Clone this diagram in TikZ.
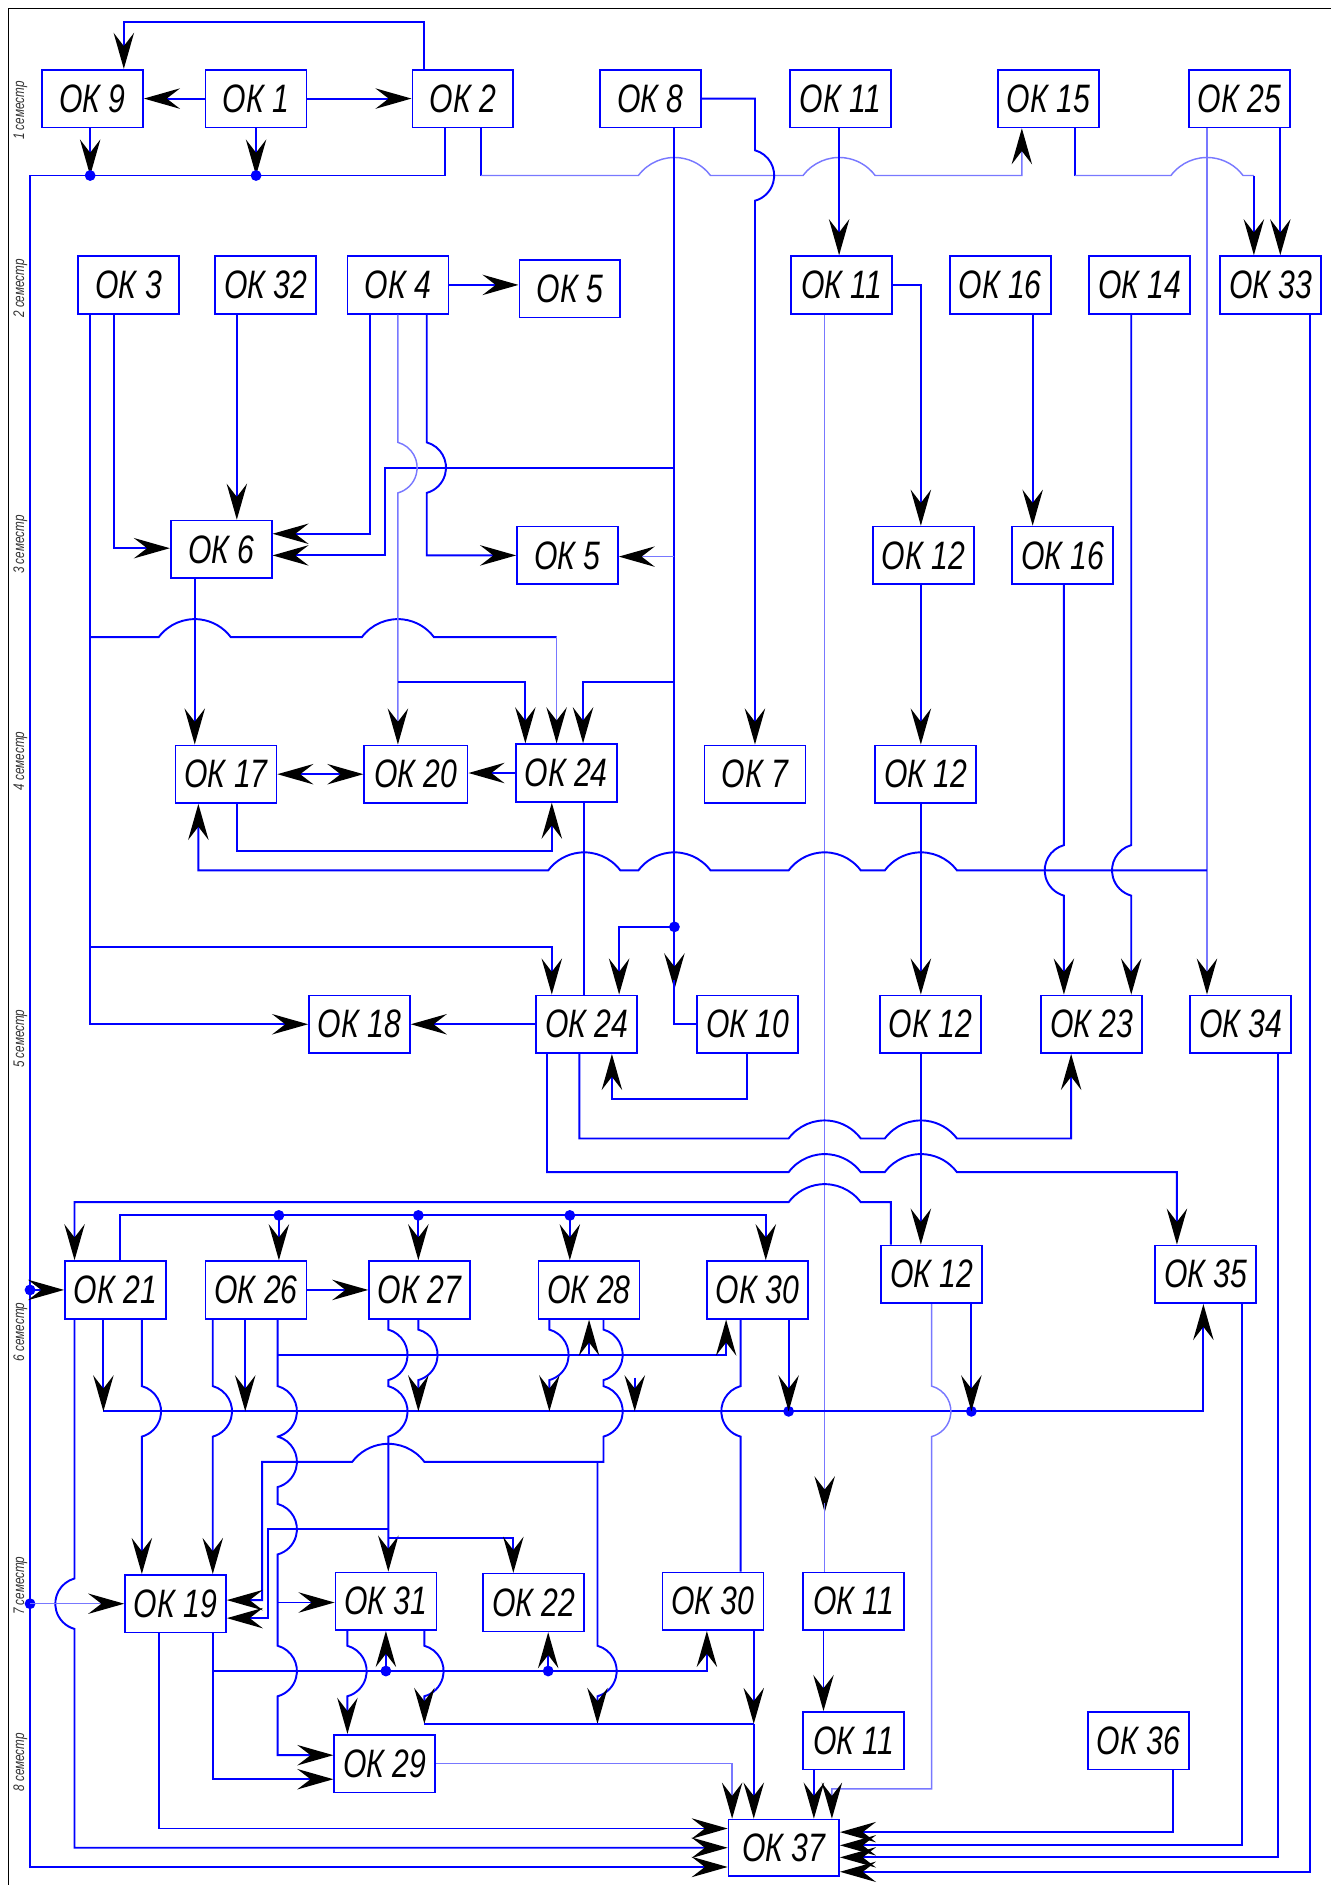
\documentclass[tikz,border=0pt]{standalone}
\usepackage{fontspec}
\newfontfamily\gost[FakeStretch=0.76]{Liberation Sans}
\usetikzlibrary{arrows.meta}
\definecolor{bl}{RGB}{0,0,255}
\definecolor{lbl}{RGB}{120,120,255}
% hops: horizontal (bulge up) moving right / left; vertical moving down, bulge right / left
\newcommand\hopR[2]{-- ({#1-30},#2) arc[start angle=216.87,end angle=323.13,radius=37.5]}
\newcommand\hopL[2]{-- ({#1+30},#2) arc[start angle=323.13,end angle=216.87,radius=37.5]}
\newcommand\hopDR[2]{-- (#1,{#2-21}) arc[start angle=-74.6,end angle=74.6,radius=21.78]}
\newcommand\hopDL[2]{-- (#1,{#2-21}) arc[start angle=254.6,end angle=105.4,radius=21.78]}
\tikzset{
 ln/.style={draw=bl, line width=0.8pt},
 lt/.style={draw=lbl, line width=0.6pt},
 tip/.tip={Stealth[length=15pt,width=8.5pt,inset=5.5pt,color=black]},
 ar/.style={-tip},
 dar/.style={tip-tip},
 box/.style={draw=bl, line width=0.7pt, minimum width=42pt, minimum height=24pt, inner sep=0pt, fill=white,
   font=\gost\itshape\fontsize{16.5}{16.5}\selectfont},
 sem/.style={rotate=90, inner sep=0pt, text=black!80, font=\gost\itshape\fontsize{6.4}{6.4}\selectfont}
}
\newcommand\jdot[2]{\fill[bl] (#1,#2) circle[radius=4.5];}
\begin{document}
\begin{tikzpicture}[x=0.5pt,y=-0.5pt]
\path[use as bounding box] (0,0) rectangle (1107,1568);
\draw[black, line width=0.6pt] (1107,7) -- (7,7) -- (7,1568);
% semester labels
\node[sem] (s1) at (17,92) {1 семестр};
\node[sem] (s2) at (17,240) {2 семестр};
\node[sem] (s3) at (17,453) {3 семестр};
\node[sem] (s4) at (17,633) {4 семестр};
\node[sem] (s5) at (17,864) {5 семестр};
\node[sem] (s6) at (17,1108) {6 семестр};
\node[sem] (s7) at (17,1319) {7 семестр};
\node[sem] (s8) at (17,1466) {8 семестр};
% boxes
\node[box] (ok9) at (77,82) {ОК 9};
\node[box] (ok1) at (213,82) {ОК 1};
\node[box] (ok2) at (385,82) {ОК 2};
\node[box] (ok8) at (541,82) {ОК 8};
\node[box] (ok11a) at (699,82) {ОК 11};
\node[box] (ok15) at (872,82) {ОК 15};
\node[box] (ok25) at (1031,82) {ОК 25};
\node[box] (ok3) at (107,237) {ОК 3};
\node[box] (ok32) at (221,237) {ОК 32};
\node[box] (ok4) at (331,237) {ОК 4};
\node[box] (ok5a) at (474,240) {ОК 5};
\node[box] (ok11b) at (700,237) {ОК 11};
\node[box] (ok16a) at (832,237) {ОК 16};
\node[box] (ok14) at (948,237) {ОК 14};
\node[box] (ok33) at (1057,237) {ОК 33};
\node[box] (ok6) at (184,457) {ОК 6};
\node[box] (ok5b) at (472,462) {ОК 5};
\node[box] (ok12a) at (768,462) {ОК 12};
\node[box] (ok16b) at (884,462) {ОК 16};
\node[box] (ok17) at (188,644) {ОК 17};
\node[box,minimum width=43pt] (ok20) at (346,644) {ОК 20};
\node[box] (ok24a) at (471,643) {ОК 24};
\node[box] (ok7) at (628,644) {ОК 7};
\node[box] (ok12b) at (770,644) {ОК 12};
\node[box] (ok18) at (299,852) {ОК 18};
\node[box] (ok24b) at (488,852) {ОК 24};
\node[box] (ok10) at (622,852) {ОК 10};
\node[box] (ok12c) at (774,852) {ОК 12};
\node[box] (ok23) at (908,852) {ОК 23};
\node[box] (ok34) at (1032,852) {ОК 34};
\node[box] (ok21) at (96,1073) {ОК 21};
\node[box] (ok26) at (213,1073) {ОК 26};
\node[box] (ok27) at (349,1073) {ОК 27};
\node[box] (ok28) at (490,1073) {ОК 28};
\node[box] (ok30a) at (630,1073) {ОК 30};
\node[box] (ok12d) at (775,1060) {ОК 12};
\node[box] (ok35) at (1003,1060) {ОК 35};
\node[box] (ok19) at (146,1334) {ОК 19};
\node[box] (ok31) at (321,1332) {ОК 31};
\node[box] (ok22) at (444,1333) {ОК 22};
\node[box] (ok30b) at (593,1332) {ОК 30};
\node[box] (ok11c) at (710,1332) {ОК 11};
\node[box] (ok11d) at (710,1448) {ОК 11};
\node[box] (ok36) at (947,1448) {ОК 36};
\node[box] (ok29) at (320,1467) {ОК 29};
\node[box,minimum width=46pt,minimum height=23.5pt] (ok37) at (652,1537) {ОК 37};

% ---- semester 1
\draw[ln,ar] (ok2.north -| 353,0) -- (353,18) -- (103,18) -- (ok9.north -| 103,0);
\draw[ln,ar] (ok1.west) -- (ok9.east);
\draw[ln,ar] (ok1.east) -- (ok2.west);
\draw[ln,ar] (ok9.south -| 75,0) -- (75,146);
\draw[ln,ar] (ok1.south) -- (213,146);
\draw[ln,ar] (ok2.south -| 370,0) -- (370,146) -- (25,146) -- (25,1553) -- (ok37.west |- 0,1553);
\jdot{75}{146}\jdot{213}{146}
\draw[ln] (ok2.south -| 400,0) -- (400,146);
\draw[lt,ar] (400,146) \hopR{561}{146} \hopR{698}{146} -- (850,146) -- (ok15.south -| 850,0);
\draw[ln] (ok15.south -| 894,0) -- (894,146);
\draw[lt] (894,146) \hopR{1004}{146} -- (1043,146);
\draw[ln,ar] (1043,146) -- (ok33.north -| 1043,0);
\draw[ln,ar] (ok25.south -| 1065,0) -- (ok33.north -| 1065,0);
\draw[lt,ar] (ok25.south -| 1004,0) -- (ok34.north -| 1004,0);
\draw[ln,ar] (ok11a.south -| 698,0) -- (ok11b.north -| 698,0);
\draw[ln,ar] (ok8.east) -- (628,82) \hopDR{628}{146} -- (ok7.north);
% OK8 trunk
\draw[ln] (ok8.south -| 561,0) -- (561,771);
\jdot{561}{771}
\draw[ln,ar] (561,771) -- (561,823);
\draw[ln] (561,815) -- (561,852) -- (ok10.west);
\draw[ln,ar] (561,771) -- (515,771) -- (ok24b.north -| 515,0);
\draw[ln,ar] (561,389) -- (320,389) -- (320,462) -- (ok6.east |- 0,462);
\draw[lt,ar] (561,463) -- (ok5b.east |- 0,463);
\draw[ln,ar] (561,567) -- (485,567) -- (ok24a.north -| 485,0);
% ---- semester 2/3
\draw[ln,ar] (ok3.south -| 75,0) -- (75,852) -- (ok18.west);
\draw[ln] (75,530) \hopR{162}{530} \hopR{331}{530} -- (463,530);
\draw[lt,ar] (463,530) -- (ok24a.north -| 463,0);
\draw[ln,ar] (75,788) -- (459,788) -- (ok24b.north -| 459,0);
\draw[ln,ar] (ok3.south -| 95,0) -- (95,456) -- (ok6.west |- 0,456);
\draw[ln,ar] (ok32.south -| 197,0) -- (ok6.north -| 197,0);
\draw[ln,ar] (ok4.south -| 308,0) -- (308,444) -- (ok6.east |- 0,444);
\draw[lt,ar] (ok4.south) \hopDR{331}{389} -- (ok20.north -| 331,0);
\draw[ln,ar] (331,567) -- (437,567) -- (ok24a.north -| 437,0);
\draw[ln,ar] (ok4.south -| 355,0) \hopDR{355}{389} -- (355,462) -- (ok5b.west |- 0,462);
\draw[ln,ar] (ok4.east) -- (ok4.east -| ok5a.west);
\draw[ln,ar] (ok11b.east) -- (766,237) -- (ok12a.north -| 766,0);
\draw[lt,ar] (ok11b.south -| 686,0) -- (686,1258);
\draw[lt] (686,1250) -- (ok11c.north -| 686,0);
\draw[ln,ar] (ok16a.south -| 859,0) -- (ok16b.north -| 859,0);
\draw[ln,ar] (ok12a.south -| 766,0) -- (ok12b.north -| 766,0);
% ---- semester 4
\draw[ln,ar] (ok6.south -| 162,0) -- (ok17.north -| 162,0);
\draw[ln,dar] (ok17.east) -- (ok20.west);
\draw[ln,ar] (ok24a.west) -- (ok24a.west -| ok20.east);
\draw[ln,ar] (ok17.south -| 197,0) -- (197,708) -- (459,708) -- (ok24a.south -| 459,0);
\draw[ln] (ok24a.south -| 486,0) -- (ok24b.north -| 486,0);
\draw[ln,ar] (1004,724) \hopL{766}{724} \hopL{686}{724} \hopL{561}{724} \hopL{486}{724} -- (165,724) -- (ok17.south -| 165,0);
\draw[ln,ar] (ok12b.south -| 766,0) -- (ok12c.north -| 766,0);
\draw[ln,ar] (ok16b.south -| 885,0) \hopDL{885}{724} -- (ok23.north -| 885,0);
\draw[ln,ar] (ok14.south -| 941,0) \hopDL{941}{724} -- (ok23.north -| 941,0);
% ---- semester 5
\draw[ln,ar] (ok24b.west) -- (ok18.east);
\draw[ln,ar] (ok10.south -| 621,0) -- (621,914) -- (509,914) -- (ok24b.south -| 509,0);
\draw[ln,ar] (ok24b.south -| 482,0) -- (482,947) \hopR{686}{947} \hopR{766}{947} -- (891,947) -- (ok23.south -| 891,0);
\draw[ln,ar] (ok24b.south -| 455,0) -- (455,975) \hopR{686}{975} \hopR{766}{975} -- (979,975) -- (ok35.north -| 979,0);
\draw[ln,ar] (ok12c.south -| 766,0) -- (ok12d.north -| 766,0);
\draw[ln,ar] (ok12d.north -| 741,0) -- (741,1000) \hopL{686}{1000} -- (62,1000) -- (ok21.north -| 62,0);
% ---- semester 6
\draw[ln,ar] (ok21.north -| 100,0) -- (100,1011) -- (637,1011) -- (ok30a.north -| 637,0);
\jdot{232}{1011}\jdot{348}{1011}\jdot{474}{1011}
\draw[ln,ar] (232,1011) -- (ok26.north -| 232,0);
\draw[ln,ar] (348,1011) -- (ok27.north -| 348,0);
\draw[ln,ar] (474,1011) -- (ok28.north -| 474,0);
\jdot{25}{1073}
\draw[ln,ar] (25,1073) -- (ok21.west);
\draw[ln,ar] (ok26.east) -- (ok27.west);
\draw[ln,ar] (86,1174) -- (1001,1174) -- (ok35.south -| 1001,0);
\jdot{656}{1174}\jdot{808}{1174}
\draw[ln,ar] (ok21.south -| 86,0) -- (86,1174);
\draw[ln,ar] (ok26.south -| 204,0) -- (204,1174);
\draw[ln,ar] (ok27.south -| 348,0) \hopDR{348}{1127} -- (348,1174);
\draw[ln,ar] (ok28.south -| 457,0) \hopDR{457}{1127} -- (457,1174);
\draw[ln,ar] (528,1146) -- (528,1174);
\draw[ln,ar] (ok30a.south -| 656,0) -- (656,1174);
\draw[ln,ar] (ok12d.south -| 808,0) -- (808,1174);
\draw[ln,ar] (ok21.south -| 118,0) \hopDR{118}{1174} -- (ok19.north -| 118,0);
\draw[ln,ar] (ok26.south -| 177,0) \hopDR{177}{1174} -- (ok19.north -| 177,0);
\draw[ln,ar] (ok21.south -| 62,0) \hopDL{62}{1334} -- (62,1537) -- (ok37.west |- 0,1537);
\jdot{25}{1334}
\draw[lt,ar] (25,1334) -- (ok19.west);
\draw[ln,ar] (ok26.south -| 231,0) \hopDR{231}{1174} \hopDR{231}{1216} \hopDR{231}{1272} \hopDR{231}{1390} -- (231,1460) -- (ok29.west |- 0,1460);
\draw[ln,ar] (231,1127) -- (604,1127) -- (ok30a.south -| 604,0);
\draw[ln,ar] (490,1127) -- (ok28.south -| 490,0);
\draw[ln,ar] (231,1333) -- (ok31.west |- 0,1333);
\draw[ln,ar] (ok27.south -| 323,0) \hopDR{323}{1127} \hopDR{323}{1174} -- (ok31.north -| 323,0);
\draw[ln,ar] (323,1272) -- (223,1272) -- (223,1346) -- (ok19.east |- 0,1346);
\draw[ln,ar] (323,1279) -- (427,1279) -- (ok22.north -| 427,0);
\draw[ln,ar] (ok28.south -| 502,0) \hopDR{502}{1127} \hopDR{502}{1174} -- (502,1216) \hopL{323}{1216} -- (218,1216) -- (218,1331) -- (ok19.east |- 0,1331);
\draw[ln,ar] (497,1216) \hopDR{497}{1390} -- (497,1434);
\draw[ln] (ok30a.south -| 616,0) \hopDL{616}{1174} -- (ok30b.north -| 616,0);
\draw[lt,ar] (ok12d.south -| 775,0) \hopDR{775}{1174} -- (775,1488) -- (692,1488) -- (ok37.north -| 692,0);
% ---- semester 7/8
\draw[ln,ar] (ok19.south -| 132,0) -- (132,1521) -- (ok37.west |- 0,1521);
\draw[ln,ar] (ok19.south -| 177,0) -- (177,1480) -- (ok29.west |- 0,1480);
\draw[ln,ar] (177,1390) -- (588,1390) -- (ok30b.south -| 588,0);
\jdot{321}{1390}\jdot{456}{1390}
\draw[ln,ar] (321,1390) -- (ok31.south -| 321,0);
\draw[ln,ar] (456,1390) -- (ok22.south -| 456,0);
\draw[ln,ar] (ok31.south -| 289,0) \hopDR{289}{1390} -- (ok29.north -| 289,0);
\draw[ln,ar] (ok31.south -| 353,0) \hopDR{353}{1390} -- (353,1434);
\draw[ln] (353,1434) -- (627,1434);
\draw[ln,ar] (ok30b.south -| 627,0) -- (627,1434);
\draw[ln,ar] (627,1434) -- (ok37.north -| 627,0);
\draw[lt,ar] (ok29.east |- 0,1467) -- (609,1467) -- (ok37.north -| 609,0);
\draw[ln,ar] (ok11c.south -| 685,0) -- (ok11d.north -| 685,0);
\draw[ln,ar] (ok11d.south -| 677,0) -- (ok37.north -| 677,0);
\draw[ln,ar] (ok36.south -| 976,0) -- (976,1524) -- (ok37.east |- 0,1524);
\draw[ln,ar] (ok35.south -| 1033,0) -- (1033,1535) -- (ok37.east |- 0,1535);
\draw[ln,ar] (ok34.south -| 1063,0) -- (1063,1545) -- (ok37.east |- 0,1545);
\draw[ln,ar] (ok33.south -| 1090,0) -- (1090,1557) -- (ok37.east |- 0,1557);
\end{tikzpicture}
\end{document}
